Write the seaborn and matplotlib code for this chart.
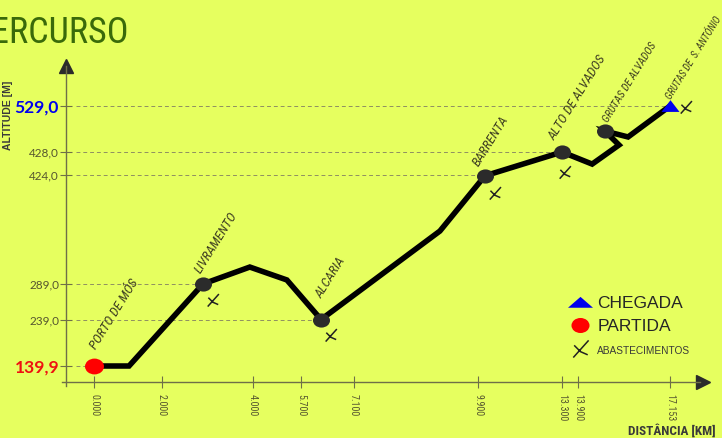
import numpy as np
import pandas as pd
import matplotlib.pyplot as plt
import seaborn as sns
from matplotlib.lines import Line2D
from matplotlib.path import Path
from matplotlib.scale import FuncScale

# route profile, km and altitude
path_km = [0.0, 1.03, 2.90, 3.93, 5.20, 6.23, 9.04, 10.18, 13.30, 14.40, 15.35, 14.85, 15.67, 17.153]
path_alt = [139.9, 139.9, 289.0, 310.0, 294.0, 239.0, 354.6, 423.0, 428.0, 425.9, 443.4, 474.0, 461.0, 529.0]

# places on the route
stop_names = ["LIVRAMENTO", "ALCARIA", "BARRENTA", "ALTO DE ALVADOS", "GRUTAS DE ALVADOS"]
stop_km = [2.90, 6.23, 10.18, 13.30, 14.85]
stop_alt = [289.0, 239.0, 423.0, 428.0, 474.0]

start_name = "PORTO DE MÓS"
start_km = [0.0]
start_alt = [139.9]
finish_name = "GRUTAS DE  S. ANTÓNIO"
finish_km = [17.153]
finish_alt = [529.0]

# supply points
supply_km = [3.12, 6.49, 10.59, 13.41, 18.03]
supply_alt = [266.5, 206.0, 401.7, 424.5, 526.8]

x_ticks = [0.0, 2.0, 4.0, 5.7, 7.1, 9.9, 13.3, 13.9, 17.153]
x_labels = ["0.000", "2.000", "4.000", "5.700", "7.100", "9.900", "13.300", "13.900", "17.153"]
y_ticks = [139.9, 239.0, 289.0, 424.0, 428.0, 529.0]
y_labels = ["139,9", "239,0", "289,0", "424,0", "428,0", "529,0"]
guide_end_km = [0.0, 6.23, 2.90, 10.18, 13.30, 17.153]

W, H = 722, 438
BG = "#e6ff5f"
INK = "#55552f"
NARROW = "Roboto Condensed"

# the printed axes are not linear, so both scales follow the tick spacing
x_anchor_km = [-2.76, 0.0, 2.0, 4.0, 5.7, 7.1, 9.9, 13.3, 13.9, 17.153, 20.0]
x_anchor_px = [0, 94, 162, 253, 301, 354, 478, 562, 578, 670, 722]
y_anchor_alt = [0.0, 139.9, 239.0, 289.0, 424.0, 428.0, 529.0, 760.0]
y_anchor_px = [438, 366, 319.5, 284, 175, 152, 106, 0]


def x_fwd(v):
    return np.interp(v, x_anchor_km, x_anchor_px)


def x_inv(v):
    return np.interp(v, x_anchor_px, x_anchor_km)


def y_fwd(v):
    return np.interp(v, y_anchor_alt, np.negative(y_anchor_px))


def y_inv(v):
    return np.interp(v, np.negative(y_anchor_px), y_anchor_alt)


sns.set_theme(style="white")
plt.rcParams["font.family"] = [NARROW, "DejaVu Sans"]

fig = plt.figure(figsize=(W / 100, H / 100), dpi=100, facecolor=BG)
ax = fig.add_axes([0, 0, 1, 1], facecolor=BG)
ax.set_xscale(FuncScale(ax.xaxis, (x_fwd, x_inv)))
ax.set_yscale(FuncScale(ax.yaxis, (y_fwd, y_inv)))
ax.set_xlim(-2.76, 20.0)
ax.set_ylim(0.0, 760.0)

# dashed guides
ax.hlines(y_ticks, x_inv(76), guide_end_km, colors="#8f8f62", linestyles=(0, (4, 3)), linewidth=0.7, zorder=1)

df = pd.DataFrame({"km": path_km, "alt": path_alt})
sns.lineplot(data=df, x="km", y="alt", sort=False, estimator=None, color="black", linewidth=4.0, ax=ax, zorder=3)
for line in ax.get_lines():
    line.set_solid_joinstyle("miter")

# markers
oval = Path(Path.unit_circle().vertices * [1.2, 1.0], Path.unit_circle().codes)
tall_tri = Path([[-1.0, -0.6], [1.0, -0.6], [0.0, 0.7], [-1.0, -0.6]], closed=True)
flat_tri = Path([[-1.0, -0.42], [1.0, -0.42], [0.0, 0.45], [-1.0, -0.42]], closed=True)
supply_mark = Path([[-0.8, -1.0], [0.9, 0.9], [-0.7, 0.35], [0.0, -0.35], [0.8, -0.7]],
                   [Path.MOVETO, Path.LINETO, Path.MOVETO, Path.LINETO, Path.LINETO])

ax.scatter(stop_km, stop_alt, s=150, marker=oval, color="#2b2b2b", linewidth=0, zorder=4)
ax.scatter(start_km, start_alt, s=187, marker=oval, color="#ff0000", linewidth=0, zorder=5)
ax.scatter(finish_km, finish_alt, s=169, marker=tall_tri, color="#0000ee", linewidth=0, zorder=5)
ax.scatter(supply_km, supply_alt, s=90, marker=supply_mark, facecolor="none", edgecolor="#222222", linewidth=1.1, zorder=4)

# place names
label_style = dict(textcoords="offset pixels", rotation=58, rotation_mode="anchor", ha="left", va="center",
                   color="#3c3c20", style="italic")
ax.annotate(start_name, (start_km[0], start_alt[0]), xytext=(-1, 18), fontsize=9.5, **label_style)
offsets = [(-5, 12), (-3, 22), (-9, 11), (-11, 13), (1, 10)]
sizes = [9.5, 9.5, 9.5, 9.5, 7.8]
for name, km, alt, off, size in zip(stop_names, stop_km, stop_alt, offsets, sizes):
    ax.annotate(name, (km, alt), xytext=off, fontsize=size, **label_style)
ax.annotate(finish_name, (finish_km[0], finish_alt[0]), xytext=(-2, 8), fontsize=7.2, **label_style)

# axes with arrow heads
for side in ["top", "right"]:
    ax.spines[side].set_visible(False)
ax.spines["left"].set_position(("axes", 66 / W))
ax.spines["bottom"].set_position(("axes", (H - 382) / H))
ax.spines["left"].set_bounds(y_inv(-386), y_inv(-66))
ax.spines["bottom"].set_bounds(x_inv(62), x_inv(700))
for side in ["left", "bottom"]:
    ax.spines[side].set_color("#6f6f48")
    ax.spines[side].set_linewidth(1.0)
ax.plot([66 / W], [1 - 66 / H], marker="^", ms=10, color="#2b2b2b", transform=ax.transAxes, clip_on=False)
ax.plot([703 / W], [1 - 382 / H], marker=">", ms=10, color="#2b2b2b", transform=ax.transAxes, clip_on=False)

ax.set_xticks(x_ticks, x_labels, rotation=-90, fontsize=7.2, color=INK)
ax.set_yticks(y_ticks, y_labels, fontsize=8.5, color=INK, fontfamily="Lato")
ax.minorticks_off()
ax.tick_params(axis="x", direction="inout", length=9, width=0.8, color="#6f6f48", pad=4, bottom=True)
ax.tick_params(axis="y", direction="inout", length=8, width=0.8, color="#6f6f48", pad=1, left=True)
y_tick_texts = ax.get_yticklabels()
y_tick_texts[0].set(color="#ee1111", fontweight="bold", fontsize=12.5)
y_tick_texts[-1].set(color="#0000ee", fontweight="bold", fontsize=12.5)

ax.set_xlabel("DISTÂNCIA [KM]", fontweight="bold", fontsize=9.5, color="#3a3a3a")
ax.xaxis.set_label_coords(672 / W, 1 - 431 / H)
ax.xaxis.label.set_va("center")
ax.set_ylabel("ALTITUDE [M]", fontfamily="Liberation Sans", fontweight="bold", fontsize=7.5, color="#3a3a3a")
ax.yaxis.set_label_coords(8 / W, 1 - 115 / H)
ax.yaxis.label.set_va("center")

# title runs off the left edge
fig.text(129 / W, 1 - 43 / H, "PERCURSO", fontsize=26, color="#3a6a0a", family=NARROW, ha="right", va="baseline")

# legend
handles = [
    Line2D([], [], linestyle="none", marker=flat_tri, ms=18, color="#0000ee", markeredgewidth=0),
    Line2D([], [], linestyle="none", marker=oval, ms=13, color="#ff0000", markeredgewidth=0),
    Line2D([], [], linestyle="none", marker=supply_mark, ms=13, markerfacecolor="none", markeredgecolor="#222222", markeredgewidth=1.1),
]
leg = ax.legend(handles, ["CHEGADA", "PARTIDA", "ABASTECIMENTOS"], loc="upper left",
                bbox_to_anchor=(554 / W, 1 - 287 / H), frameon=False, labelspacing=0.47,
                handletextpad=0.0, borderpad=0, handlelength=2, prop={"family": "Liberation Sans", "size": 12.5})
leg.get_texts()[2].set_fontsize(7.3)
leg.get_texts()[2].set_color("#3a3a3a")

fig.savefig("out.png", dpi=100, facecolor=BG)
